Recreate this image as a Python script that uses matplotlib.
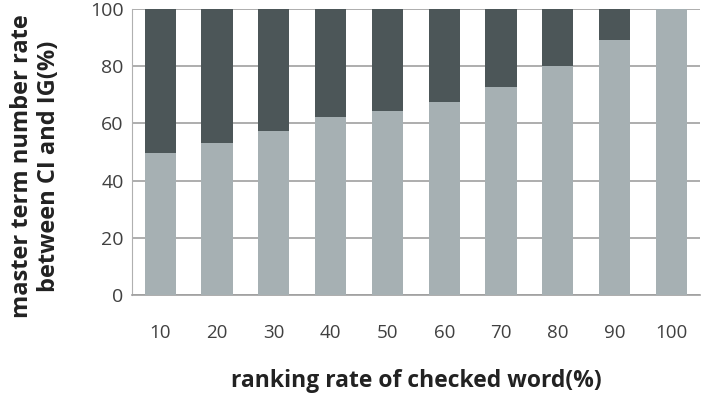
import matplotlib.pyplot as plt
import numpy as np

plt.rcParams["font.family"] = ["Open Sans", "DejaVu Sans"]

categories = ["10", "20", "30", "40", "50", "60", "70", "80", "90", "100"]
common_rate = [49.5, 53.0, 57.4, 62.1, 64.3, 67.4, 72.6, 80.2, 89.2, 100.0]
other_rate = [100 - v for v in common_rate]

LIGHT = "#a6b0b3"
DARK = "#4c5658"

fig = plt.figure(figsize=(7.09, 4.13), dpi=100)
ax = fig.add_axes([0.186, 0.286, 0.801, 0.692])
x = np.arange(len(categories))
ax.bar(x, common_rate, width=0.55, color=LIGHT, zorder=3)
ax.bar(x, other_rate, width=0.55, bottom=common_rate, color=DARK, zorder=3)

ax.set_xlim(-0.5, len(categories) - 0.5)
ax.set_ylim(0, 100)
ax.set_yticks(range(0, 101, 20))
ax.set_xticks(x)
ax.set_xticklabels(categories)
ax.grid(axis="y", color="#a0a0a0", linewidth=1.2, zorder=0)
for side in ("top", "right"):
    ax.spines[side].set_visible(False)
ax.spines["left"].set_color("#b0b0b0")
ax.spines["bottom"].set_color("#a0a0a0")
ax.spines["bottom"].set_linewidth(1.2)
ax.tick_params(axis="x", length=0, pad=21, labelsize=13.5, colors="#404040")
ax.tick_params(axis="y", length=0, pad=6, labelsize=14, colors="#404040")

fig.text(0.587, 0.078, "ranking rate of checked word(%)", fontsize=16.5,
         fontweight="bold", color="#222222", ha="center", va="center")
fig.text(0.050, 0.598, "master term number rate\nbetween CI and IG(%)",
         fontsize=17, fontweight="bold", color="#222222", rotation=90,
         ha="center", va="center", multialignment="center", linespacing=1.2)

fig.savefig("out.png", dpi=100)
